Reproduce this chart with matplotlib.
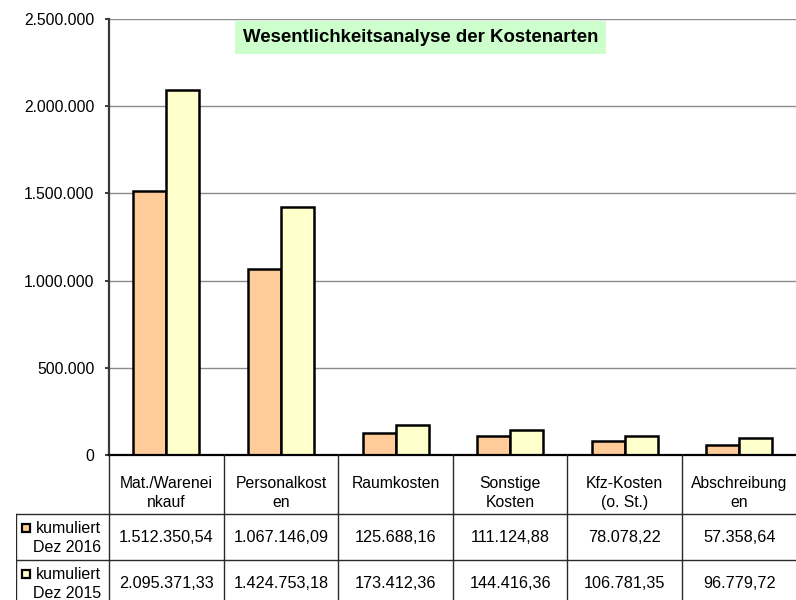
import numpy as np
import matplotlib.pyplot as plt
from matplotlib.patches import Rectangle

plt.rcParams['font.family'] = ['Liberation Sans', 'DejaVu Sans']

categories = ["Mat./Warenei\nnkauf", "Personalkost\nen", "Raumkosten",
              "Sonstige\nKosten", "Kfz-Kosten\n(o. St.)", "Abschreibung\nen"]
series_names = ["kumuliert\nDez 2016", "kumuliert\nDez 2015"]
dez_2016 = [1512350.54, 1067146.09, 125688.16, 111124.88, 78078.22, 57358.64]
dez_2015 = [2095371.33, 1424753.18, 173412.36, 144416.36, 106781.35, 96779.72]
colors = ["#FFCC99", "#FFFFCC"]
yticks = [0, 500000, 1000000, 1500000, 2000000, 2500000]


def de_num(v, dec=2):
    s = f"{v:,.{dec}f}"
    return s.replace(",", "X").replace(".", ",").replace("X", ".")


W, H = 796, 600
fig = plt.figure(figsize=(W / 100, H / 100), dpi=100)

# main chart area
x0, y0, pw, ph = 109, 145, 687.6, 436
ax = fig.add_axes([x0 / W, y0 / H, pw / W, ph / H])
n = len(categories)
x = np.arange(n)
bw = 33 / (pw / n)
ax.bar(x - bw / 2, dez_2016, bw, color=colors[0], edgecolor="black", linewidth=1.8, zorder=3)
ax.bar(x + bw / 2, dez_2015, bw, color=colors[1], edgecolor="black", linewidth=1.8, zorder=3)
ax.set_xlim(-0.5, n - 0.5)
ax.set_ylim(0, 2500000)
ax.set_yticks(yticks)
ax.set_yticklabels(["0" if t == 0 else de_num(t, 0) for t in yticks])
ax.set_xticks([])
ax.grid(axis="y", color="#8c8c8c", linewidth=1.0, zorder=0)
for s in ["top", "right"]:
    ax.spines[s].set_visible(False)
ax.spines["left"].set_color("#3a3a3a")
ax.spines["left"].set_linewidth(1.6)
ax.spines["bottom"].set_color("black")
ax.spines["bottom"].set_linewidth(1.6)
ax.spines["bottom"].set_zorder(4)
ax.tick_params(axis="y", length=3, width=1.4, color="#3a3a3a", pad=7.5,
               labelsize=11.3, labelcolor="black")

ax.text(0.453, 0.957, "Wesentlichkeitsanalyse der Kostenarten", transform=ax.transAxes,
        ha="center", va="center", fontsize=13.4, fontweight="bold", zorder=5,
        bbox=dict(boxstyle="square,pad=0.42", facecolor="#CCFFCC", edgecolor="none"))

# data table below the chart
cw = pw / n
lab_w = 93
tx = fig.add_axes([(x0 - lab_w) / W, 0, (pw + lab_w) / W, y0 / H])
tx.set_xlim(-0.5 - lab_w / cw, n - 0.5)
tx.set_ylim(-y0, 0)
tx.axis("off")
xl = -0.5 - lab_w / cw
lc, lw = "#2a2a2a", 1.0
row_edges = [0, -59, -105, -151]
for b in np.arange(n + 1) - 0.5:
    tx.plot([b, b], [0, -y0], color=lc, lw=lw, clip_on=False)
tx.plot([xl, xl], [row_edges[1], -y0], color=lc, lw=lw)
for r in row_edges[1:3]:
    tx.plot([xl, n - 0.5], [r, r], color=lc, lw=lw)

for i, c in enumerate(categories):
    tx.text(i, -21, c, ha="center", va="top", fontsize=11.3, linespacing=1.32)

rows = [dez_2016, dez_2015]
for r, vals in enumerate(rows):
    yc = (row_edges[r + 1] + row_edges[r + 2]) / 2
    for i, v in enumerate(vals):
        tx.text(i, yc - 1, de_num(v), ha="center", va="center", fontsize=11.7)
    ty = row_edges[r + 1] - 7
    tx.text(-0.5 - 8 / cw, ty, series_names[r], ha="right", va="top",
            fontsize=11.5, linespacing=1.3, multialignment="right")
    tx.add_patch(Rectangle((xl + 6 / cw, ty - 11), 8 / cw, 8, facecolor=colors[r],
                           edgecolor="black", linewidth=1.6))

fig.savefig("out.png", dpi=100)
